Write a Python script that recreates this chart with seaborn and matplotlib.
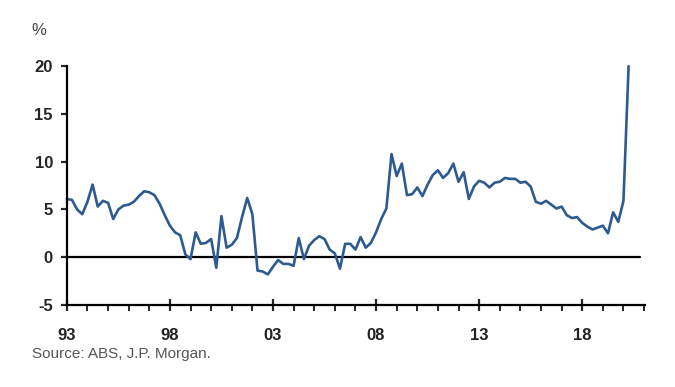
import pandas as pd
import matplotlib.pyplot as plt
import seaborn as sns
import numpy as np
from matplotlib.ticker import MultipleLocator, FixedLocator

sns.set_style('white')
plt.rcParams['font.family'] = ['Liberation Sans', 'DejaVu Sans']
plt.rcParams['axes.unicode_minus'] = False

# quarterly values, 1993Q1 - 2020Q2 (%)
start_year = 1993
values = [
    6.1, 6.0, 5.0, 4.5,    # 93
    5.8, 7.6, 5.3, 5.9,    # 94
    5.7, 4.0, 5.0, 5.4,    # 95
    5.5, 5.8, 6.4, 6.9,    # 96
    6.8, 6.5, 5.6, 4.4,    # 97
    3.3, 2.6, 2.3, 0.3,    # 98
    -0.2, 2.6, 1.4, 1.5,   # 99
    1.9, -1.1, 4.3, 1.0,   # 00
    1.3, 2.0, 4.2, 6.2,    # 01
    4.5, -1.4, -1.5, -1.8, # 02
    -1.0, -0.3, -0.7, -0.7,# 03
    -0.9, 2.0, -0.2, 1.2,  # 04
    1.8, 2.2, 1.9, 0.8,    # 05
    0.4, -1.2, 1.4, 1.4,   # 06
    0.8, 2.1, 1.0, 1.5,    # 07
    2.6, 4.0, 5.1, 10.8,   # 08
    8.5, 9.8, 6.5, 6.6,    # 09
    7.3, 6.4, 7.6, 8.6,    # 10
    9.1, 8.3, 8.8, 9.8,    # 11
    7.9, 8.9, 6.1, 7.4,    # 12
    8.0, 7.8, 7.3, 7.8,    # 13
    7.9, 8.3, 8.2, 8.2,    # 14
    7.8, 7.9, 7.4, 5.8,    # 15
    5.6, 5.9, 5.5, 5.1,    # 16
    5.3, 4.4, 4.1, 4.2,    # 17
    3.6, 3.2, 2.9, 3.1,    # 18
    3.3, 2.5, 4.7, 3.7,    # 19
    5.9, 20.0,             # 20
]
years = start_year + np.arange(len(values)) / 4
df = pd.DataFrame({'year': years, 'value': values})

major_years = [1993, 1998, 2003, 2008, 2013, 2018]
major_labels = ['93', '98', '03', '08', '13', '18']
y_ticks = [-5, 0, 5, 10, 15, 20]

fig = plt.figure(figsize=(6.75, 3.87), dpi=100)
ax = fig.add_axes([0.099, 0.212, 0.857, 0.617])

sns.lineplot(data=df, x='year', y='value', ax=ax, color='#2d5b91',
             linewidth=1.9, clip_on=False, solid_joinstyle='round')
ax.axhline(0, xmin=0, xmax=0.99, color='black', linewidth=1.6, zorder=1)

ax.set_xlim(1993, 2021.06)
ax.set_ylim(-5, 20)
ax.xaxis.set_major_locator(FixedLocator(major_years))
ax.xaxis.set_minor_locator(MultipleLocator(1))
ax.set_xticklabels(major_labels)
ax.set_yticks(y_ticks)
ax.set_xlabel('')
ax.set_ylabel('')

for side in ['top', 'right']:
    ax.spines[side].set_visible(False)
for side in ['left', 'bottom']:
    ax.spines[side].set_color('black')
    ax.spines[side].set_linewidth(1.6)

ax.tick_params(axis='x', which='major', direction='inout', length=9, width=1.6,
               labelsize=12, pad=12, labelcolor='#222222', bottom=True)
ax.tick_params(axis='x', which='minor', direction='out', length=4, width=1.4, bottom=True)
ax.tick_params(axis='y', direction='out', length=4, width=1.6, labelsize=12,
               pad=6, left=True)
for lbl in ax.get_xticklabels() + ax.get_yticklabels():
    lbl.set_fontweight('bold')

fig.text(0.047, 0.91, '%', fontsize=12, color='#444444')
fig.text(0.047, 0.075, 'Source: ABS, J.P. Morgan.', fontsize=11, color='#555555')

plt.savefig('out.png', dpi=100)
